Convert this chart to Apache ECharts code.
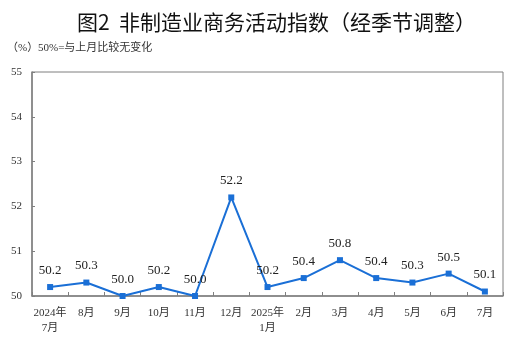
<!DOCTYPE html>
<html>
<head>
<meta charset="utf-8">
<script src="https://cdn.jsdelivr.net/npm/echarts@6/dist/echarts.min.js"></script>
<style>
  html, body { margin: 0; padding: 0; background: #fff; }
  #chart { width: 516px; height: 338px; }
</style>
</head>
<body>
<div id="chart"></div>
<script>
// Non-manufacturing business activity index, seasonally adjusted
const months = ['2024年\n7月', '8月', '9月', '10月', '11月', '12月', '2025年\n1月', '2月', '3月', '4月', '5月', '6月', '7月'];
const indexValues = [50.2, 50.3, 50.0, 50.2, 50.0, 52.2, 50.2, 50.4, 50.8, 50.4, 50.3, 50.5, 50.1];
const yTicks = [50, 51, 52, 53, 54, 55];

const serif = '"Liberation Serif", "Times New Roman", "Noto Sans CJK SC", serif';
const axisGray = '#7f7f7f';
const lineBlue = '#1a6fd6';

const chart = echarts.init(document.getElementById('chart'));
chart.setOption({
  animation: false,
  backgroundColor: '#fff',
  title: [
    {
      text: '图2  非制造业商务活动指数（经季节调整）',
      left: 72,
      top: 7,
      textStyle: { fontFamily: '"Noto Sans CJK SC", sans-serif', fontSize: 21, fontWeight: 'normal', color: '#111' }
    },
    {
      text: '（%）',
      left: 2,
      top: 38,
      textStyle: { fontFamily: serif, fontSize: 11, fontWeight: 'normal', color: '#333' }
    },
    {
      text: '50%=与上月比较无变化',
      left: 33,
      top: 38,
      textStyle: { fontFamily: serif, fontSize: 11, fontWeight: 'normal', color: '#333' }
    }
  ],
  grid: { left: 32, right: 13, top: 72, bottom: 42, show: true, borderColor: axisGray, borderWidth: 1 },
  xAxis: {
    type: 'category',
    data: months,
    boundaryGap: true,
    axisLine: { lineStyle: { color: axisGray, width: 1.5 } },
    axisTick: { show: true, inside: true, length: 4, alignWithLabel: false, lineStyle: { color: axisGray } },
    axisLabel: { fontFamily: serif, fontSize: 11, color: '#333', margin: 10, interval: 0, lineHeight: 15 }
  },
  yAxis: {
    type: 'value',
    min: yTicks[0],
    max: yTicks[yTicks.length - 1],
    interval: 1,
    axisLine: { show: true, lineStyle: { color: axisGray, width: 1.5 } },
    axisTick: { show: true, inside: true, length: 3, lineStyle: { color: axisGray } },
    splitLine: { show: false },
    axisLabel: { fontFamily: serif, fontSize: 11, color: '#333', margin: 10 }
  },
  series: [{
    type: 'line',
    data: indexValues,
    symbol: 'rect',
    symbolSize: 6,
    lineStyle: { color: lineBlue, width: 2 },
    itemStyle: { color: lineBlue },
    label: {
      show: true,
      position: 'top',
      distance: 7,
      fontFamily: serif,
      fontSize: 13,
      color: '#222',
      formatter: p => p.value.toFixed(1)
    }
  }]
});
</script>
</body>
</html>
